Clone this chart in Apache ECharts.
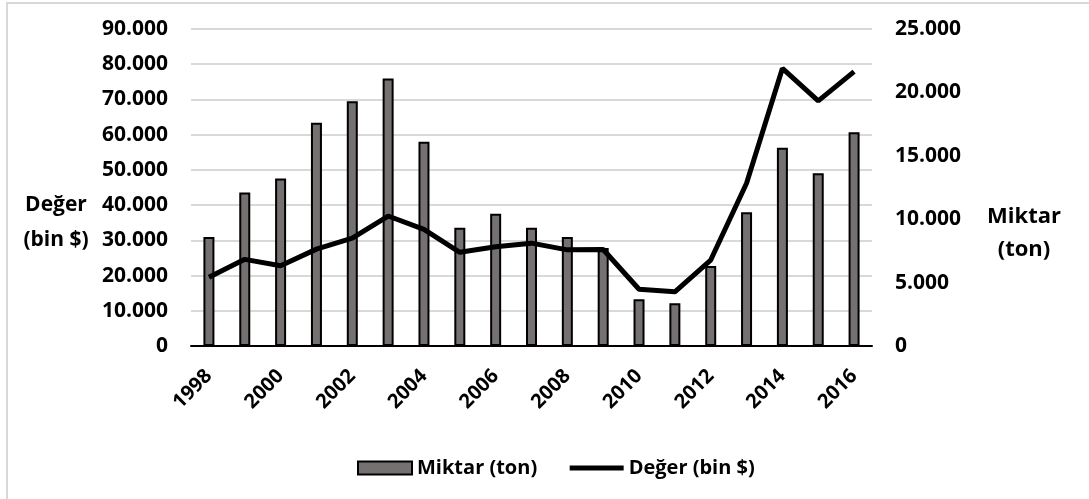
<!DOCTYPE html>
<html>
<head>
<meta charset="utf-8">
<script src="https://cdn.jsdelivr.net/npm/echarts@6/dist/echarts.min.js"></script>
<style>
  html, body { margin: 0; padding: 0; background: #fff; }
  #chart { width: 1089px; height: 499px; }
</style>
</head>
<body>
<div id="chart"></div>
<script>
const years = ["1998", "1999", "2000", "2001", "2002", "2003", "2004", "2005", "2006", "2007",
  "2008", "2009", "2010", "2011", "2012", "2013", "2014", "2015", "2016"];
// Miktar (ton) - bars, right axis
const miktar = [8600, 12100, 13200, 17600, 19300, 21100, 16100, 9330, 10430, 9330,
  8600, 7730, 3680, 3370, 6310, 10540, 15640, 13620, 16850];
// Değer (bin $) - line, left axis
const deger = [19500, 24600, 22800, 27500, 30600, 36900, 33100, 26600, 28200, 29200,
  27300, 27400, 16100, 15400, 24400, 46200, 78800, 69600, 77900];

const font = "'Open Sans', sans-serif";
const barColor = "#767171";

const chart = echarts.init(document.getElementById("chart"));

// thousands separator with dot, as in the reference
function fmt(v) {
  return String(v).replace(/\B(?=(\d{3})+(?!\d))/g, ".");
}

const labelStyle = {
  fontFamily: font,
  fontSize: 21,
  fontWeight: "bold",
  color: "#000",
};

chart.setOption({
  animation: false,
  textStyle: { fontFamily: font },
  graphic: [
    {
      type: "rect",
      shape: { x: 7, y: 3, width: 1100, height: 520 },
      style: { fill: "none", stroke: "#d9d9d9", lineWidth: 2 },
      silent: true,
    },
    {
      // right axis title
      type: "text",
      x: 1024,
      y: 200,
      style: {
        text: "Miktar\n(ton)",
        align: "center",
        verticalAlign: "top",
        lineHeight: 33,
        font: "bold 22px 'Open Sans', sans-serif",
        fill: "#000",
      },
      silent: true,
    },
  ],
  grid: { left: 191, right: 217, top: 29, bottom: 153 },
  legend: {
    left: 352,
    top: 453,
    itemWidth: 54,
    itemHeight: 13,
    itemGap: 30,
    textStyle: { fontFamily: font, fontSize: 20, fontWeight: "bold", color: "#000" },
    data: [
      { name: "Miktar (ton)", icon: "rect", itemStyle: { color: barColor, borderColor: "#000", borderWidth: 2 } },
      {
        name: "Değer (bin $)",
        itemStyle: { color: "rgba(0,0,0,0)", borderColor: "rgba(0,0,0,0)", borderWidth: 0 },
        lineStyle: { color: "#000", width: 5 },
      },
    ],
  },
  xAxis: {
    type: "category",
    data: years,
    axisLine: { lineStyle: { color: "#000", width: 2 } },
    axisTick: { show: false },
    axisLabel: Object.assign({ interval: 1, rotate: 45, margin: 27 }, labelStyle, { fontSize: 20 }),
  },
  yAxis: [
    {
      type: "value",
      min: 0,
      max: 90000,
      interval: 10000,
      name: "Değer\n(bin $)",
      nameLocation: "middle",
      nameRotate: 0,
      nameGap: 135,
      nameTextStyle: Object.assign({}, labelStyle, {
        align: "center",
        verticalAlign: "top",
        lineHeight: 35,
      }),
      axisLine: { show: false },
      axisTick: { show: false },
      splitLine: { lineStyle: { color: "#d9d9d9", width: 2 } },
      axisLabel: Object.assign({ margin: 23, formatter: fmt }, labelStyle),
    },
    {
      type: "value",
      min: 0,
      max: 25000,
      interval: 5000,
      axisLine: { show: false },
      axisTick: { show: false },
      splitLine: { show: false },
      axisLabel: Object.assign({ margin: 23, formatter: fmt }, labelStyle),
    },
  ],
  series: [
    {
      name: "Miktar (ton)",
      type: "bar",
      yAxisIndex: 1,
      data: miktar,
      barWidth: 11,
      itemStyle: { color: barColor, borderColor: "#000", borderWidth: 2 },
    },
    {
      name: "Değer (bin $)",
      type: "line",
      yAxisIndex: 0,
      data: deger,
      symbol: "none",
      lineStyle: { color: "#000", width: 5 },
      itemStyle: { color: "#000" },
    },
  ],
});
</script>
</body>
</html>
